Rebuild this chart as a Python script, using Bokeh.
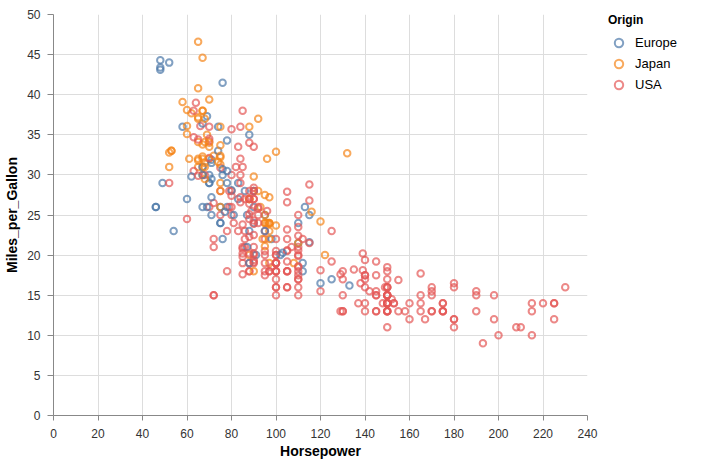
from bokeh.plotting import figure
from bokeh.models import ColumnDataSource, Range1d, FixedTicker, Legend, LegendItem
from bokeh.transform import factor_cmap
from bokeh.embed import file_html
from bokeh.resources import INLINE

# ---- data (Horsepower, Miles_per_Gallon, Origin) ----
horsepower = [
    130, 165, 150, 150, 140, 198, 220, 215, 225, 190, 170, 160, 150, 225,
    95, 95, 97, 85, 88, 46, 87, 90, 95, 113, 90, 215, 200, 210, 193, 88, 90, 95,
    100, 105, 100, 88, 100, 165, 175, 153, 150, 180, 170, 175, 110, 72, 100, 88, 86, 90, 70, 76, 65, 69, 60, 70, 95, 80, 54, 90, 86,
    165, 175, 150, 153, 150, 208, 155, 160, 190, 97, 150, 130, 140, 150, 112, 76, 87, 69, 86, 92, 97, 80, 88,
    175, 150, 145, 137, 150, 198, 150, 158, 150, 215, 225, 175, 105, 100, 100, 88, 95, 46, 150, 167, 170, 180, 100, 88, 72, 94, 90, 85, 107, 90, 145, 230, 49, 75, 91, 112, 150, 110, 122, 180, 95,
    100, 100, 67, 80, 65, 75, 100, 110, 105, 140, 150, 150, 140, 150, 83, 67, 78, 52, 61, 75, 75, 75, 97, 93, 67, 95, 105, 72, 72, 170, 145, 150, 148, 110, 105, 110, 95, 110, 110, 129, 75, 83, 100, 78, 96, 71, 97, 97, 70, 90, 95, 88, 98, 115, 53, 86, 81, 92, 79, 83,
    140, 150, 120, 152, 100, 105, 81, 90, 52, 60, 70, 53, 100, 78, 110, 95, 71, 70, 75, 72, 102, 150, 88, 108, 120, 180, 145, 130, 150, 68, 80, 58, 96, 70, 145, 110, 145, 130, 110, 105, 100, 98, 180, 170, 190, 149, 78, 88, 75, 89, 63, 83, 67, 78, 97, 110, 110,
    48, 66, 52, 70, 60, 110, 140, 139, 105, 95, 85, 88, 100, 90, 105, 85, 110, 120, 145, 165, 139, 140, 68, 95, 97, 75, 95, 105, 85, 97, 103, 125, 115, 133, 71, 68, 115, 85, 88, 90, 110, 130, 129, 138, 135, 155, 142, 125, 150, 71, 65, 80, 80, 77, 125, 71,
    90, 70, 70, 65, 69, 90, 115, 115, 90, 76, 60, 70, 65, 90, 88, 90, 90, 78, 90, 75, 92, 75, 65, 105, 65, 48, 48, 67, 67, 67,
    67, 62, 132, 100, 88, 72, 84, 84, 92, 110, 84, 58, 64, 60, 67, 65, 62, 68, 63, 65, 65, 74, 75, 75, 100, 74, 80, 76, 116, 120, 110, 105, 88, 85, 88, 88, 88, 85, 84, 90, 92, 74, 68, 68, 63, 70, 88, 75, 70, 67, 67, 67, 110, 85, 92, 112, 96, 84, 90, 86, 52, 84, 79, 82,
]

miles_per_gallon = [
    18, 15, 18, 16, 17, 15, 14, 14, 14, 15, 15, 14, 15, 14,
    24, 22, 18, 21, 27, 26, 25, 24, 25, 26, 21, 10, 10, 11, 9, 27, 28, 25,
    19, 16, 17, 19, 18, 14, 14, 14, 14, 12, 13, 13, 18, 22, 19, 18, 23, 28, 30, 30, 31, 35, 27, 26, 24, 25, 23, 20, 21,
    13, 14, 15, 14, 17, 11, 13, 12, 13, 19, 15, 13, 13, 14, 18, 22, 21, 26, 22, 28, 23, 28, 27,
    13, 14, 13, 14, 15, 12, 13, 13, 14, 13, 12, 13, 18, 16, 18, 18, 23, 26, 11, 12, 13, 12, 18, 20, 21, 22, 18, 19, 21, 26, 15, 16, 29, 24, 20, 19, 15, 24, 20, 11, 20,
    19, 15, 31, 26, 32, 25, 16, 16, 18, 16, 13, 14, 14, 14, 29, 26, 26, 31, 32, 28, 24, 26, 24, 26, 31, 19, 18, 15, 15, 16, 15, 16, 14, 17, 16, 15, 18, 21, 20, 13, 29, 23, 20, 23, 24, 25, 24, 18, 29, 19, 23, 23, 22, 25, 33, 28, 25, 25, 26, 27,
    17.5, 16, 15.5, 14.5, 22, 22, 24, 22.5, 29, 24.5, 29, 33, 20, 18, 18.5, 17.5, 29.5, 32, 28, 26.5, 20, 13, 19, 19, 16.5, 16.5, 13, 13, 13, 31.5, 30, 36, 25.5, 33.5, 17.5, 17, 15.5, 15, 17.5, 20.5, 19, 18.5, 16, 15.5, 15.5, 16, 29, 24.5, 26, 25.5, 30.5, 33.5, 30, 30.5, 22, 21.5, 21.5,
    43.1, 36.1, 32.8, 39.4, 36.1, 19.9, 19.4, 20.2, 19.2, 20.5, 20.2, 25.1, 20.5, 19.4, 20.6, 20.8, 18.6, 18.1, 19.2, 17.7, 18.1, 17.5, 30, 27.5, 27.2, 30.9, 21.1, 23.2, 23.8, 23.9, 20.3, 17, 21.6, 16.2, 31.5, 29.5, 21.5, 19.8, 22.3, 20.2, 20.6, 17, 17.6, 16.5, 18.2, 16.9, 15.5, 19.2, 18.5, 31.9, 34.1, 35.7, 27.4, 25.4, 23, 27.2,
    23.9, 34.2, 34.5, 31.8, 37.3, 28.4, 28.8, 26.8, 33.5, 41.5, 38.1, 32.1, 37.2, 28, 26.4, 24.3, 19.1, 34.3, 29.8, 31.3, 37, 32.2, 46.6, 27.9, 40.8, 44.3, 43.4, 36.4, 30, 44.6,
    33.8, 29.8, 32.7, 23.7, 35, 32.4, 27.2, 26.6, 25.8, 23.5, 30, 39.1, 39, 35.1, 32.3, 37, 37.7, 34.1, 34.7, 34.4, 29.9, 33, 33.7, 32.4, 32.9, 31.6, 28.1, 30.7, 25.4, 24.2, 22.4, 26.6, 20.2, 17.6, 28, 27, 34, 31, 29, 27, 24, 36, 37, 31, 38, 36, 36, 36, 34, 38, 32, 38, 25, 38, 26, 22, 32, 36, 27, 27, 44, 32, 28, 31,
]

origin_code = (
    "UUUUUUUUUUUUUU"
    "JUUUJEEEEEUUUUUJUJ"
    "UUUUUUUUUUUUUUUUUEEEJJEUJUEUU"
    "UUUUUUUUUJUUUUEEEEUJJUJ"
    "UUUUUUUUUUUUUUUUUEUUUUUJUJJUUEUUEEEEUEJUU"
    "UUJUJUUUUUUUUUEEEJJUEEJJEUUUUUUUUUUUUUUUJUUUJEJUEUEEEEJEEUUE"
    "UUUUUUUUUUEJUUUUEJJUEUEJEUUUUJUEUJUUUUUUUUUUUUEUJUUUJEJEJ"
    "EUJJJUUUUUUUUUUUUUUUUUUJJUJUUJEEEEEJUUUUUUUUUUUUUEJUUEUE"
    "UUUJEUUUUEJUJUUUUEJJJJJUJEEEEJ"
    "JEJJEJUUUUUJUJJJJJUUUEJJJJEEJJUUUUUUUUUUUEJJUUJJJJJJUUUUJUUUEUUU"
)

origins = ["Europe", "Japan", "USA"]
colors = ["#4c78a8", "#f58518", "#e45756"]
code_names = {"E": "Europe", "J": "Japan", "U": "USA"}
origin = [code_names[c] for c in origin_code]

x_ticks = [0, 20, 40, 60, 80, 100, 120, 140, 160, 180, 200, 220, 240]
y_ticks = [0, 5, 10, 15, 20, 25, 30, 35, 40, 45, 50]

FONT = "Liberation Sans"

src = ColumnDataSource(dict(hp=horsepower, mpg=miles_per_gallon, origin=origin))

p = figure(frame_width=534, frame_height=401,
           x_range=Range1d(0, 240), y_range=Range1d(0, 50),
           output_backend="svg", toolbar_location=None,
           min_border_left=53, min_border_top=14, min_border_bottom=0, min_border_right=0,
           x_axis_label="Horsepower", y_axis_label="Miles_per_Gallon")
p.outline_line_color = None
p.background_fill_color = "white"
p.border_fill_color = "white"

r = p.scatter("hp", "mpg", source=src, size=6.5, marker="circle",
              fill_alpha=0, line_width=2, line_alpha=0.7,
              line_color=factor_cmap("origin", colors, origins))

for ax, ticks in ((p.xaxis[0], x_ticks), (p.yaxis[0], y_ticks)):
    ax.ticker = FixedTicker(ticks=ticks)
    ax.axis_line_color = "#888888"
    ax.major_tick_line_color = "#888888"
    ax.minor_tick_line_color = None
    ax.major_label_text_font = FONT
    ax.major_label_text_font_size = "12px"
    ax.major_label_text_color = "#333333"
    ax.axis_label_text_font = FONT
    ax.axis_label_text_font_size = "14px"
    ax.axis_label_text_font_style = "bold"
    ax.axis_label_text_color = "#000000"

p.xaxis.major_tick_out = 5
p.xaxis.major_tick_in = 0
p.xaxis.major_label_standoff = 8
p.xaxis.axis_label_standoff = 2
p.yaxis.major_tick_out = 6
p.yaxis.major_tick_in = 0
p.yaxis.major_label_standoff = 7
p.yaxis.axis_label_standoff = 4

p.xgrid.ticker = FixedTicker(ticks=x_ticks)
p.ygrid.ticker = FixedTicker(ticks=y_ticks)
p.grid.grid_line_color = "#dddddd"
p.grid.grid_line_width = 1

items = [LegendItem(label=o, renderers=[r], index=origin.index(o)) for o in origins]
legend = Legend(items=items, location=(21, 320), margin=0, padding=0, spacing=0,
                title="Origin", title_text_font=FONT, title_text_font_size="12px",
                title_text_font_style="bold", title_text_color="#000000", title_standoff=5,
                glyph_width=21, glyph_height=21, label_standoff=6,
                label_text_font=FONT, label_text_font_size="13px", label_text_color="#000000",
                border_line_color=None, background_fill_alpha=0)
p.add_layout(legend, "right")
p.min_border_right = 20

open("out.html", "w").write(file_html(p, INLINE))
